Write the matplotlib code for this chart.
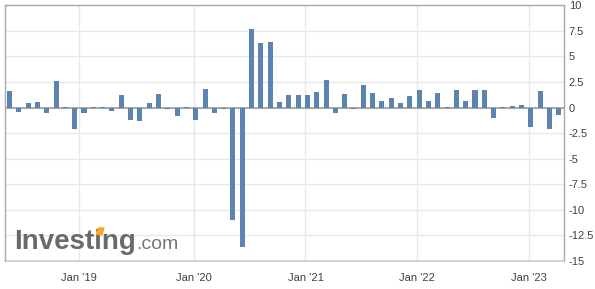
import matplotlib
matplotlib.use("Agg")
import matplotlib.pyplot as plt
from matplotlib.patches import Polygon
import numpy as np
import pandas as pd

plt.rcParams['font.family'] = ['Liberation Sans', 'DejaVu Sans']
plt.rcParams['axes.unicode_minus'] = False

# monthly values, May 2018 .. Apr 2023
months = [p.strftime("%b %y") for p in pd.period_range("2018-05", "2023-04", freq="M")]
values = [1.6, -0.4, 0.4, 0.5, -0.5, 2.6, 0.1, -2.1, -0.5, 0.05,
          0.05, -0.3, 1.2, -1.2, -1.3, 0.4, 1.3, -0.1, -0.8, 0.1,
          -1.2, 1.8, -0.5, -0.1, -11.0, -13.6, 7.7, 6.3, 6.4, 0.5,
          1.2, 1.2, 1.2, 1.5, 2.7, -0.5, 1.3, -0.1, 2.2, 1.4,
          0.6, 0.9, 0.4, 1.1, 1.7, 0.6, 1.4, 0.05, 1.7, 0.6,
          1.7, 1.7, -1.0, 0.1, 0.2, 0.3, -1.9, 1.6, -2.1, -0.7]

xtick_labels = ["Jan '19", "Jan '20", "Jan '21", "Jan '22", "Jan '23"]
xtick_pos = [7.47, 19.83, 31.79, 43.76, 55.76]
yticks = [10, 7.5, 5, 2.5, 0, -2.5, -5, -7.5, -10, -12.5, -15]

bar_color = "#5b84b1"
text_color = "#404040"

fig = plt.figure(figsize=(5.95, 2.89), dpi=100)
W, H = 595, 289
ax = fig.add_axes([4.5 / W, 1 - 261 / H, (564 - 4.5) / W, (261 - 5.3) / H])

x = np.arange(len(values))
ax.bar(x, values, width=0.54, color=bar_color, zorder=3)
ax.axhline(0, color="#9a9a9a", lw=1.2, zorder=2)

ax.set_xlim(-0.54, 59.56)
ax.set_ylim(-15, 10)

ax.set_yticks(yticks)
ax.set_yticklabels([f"{v:g}" for v in yticks])
ax.yaxis.tick_right()
ax.set_xticks(xtick_pos)
ax.set_xticklabels(xtick_labels)

ax.grid(True, color="#e8e8e8", lw=1, zorder=0)
ax.tick_params(axis="y", length=0, pad=3.5, labelsize=8, labelcolor=text_color)
ax.tick_params(axis="x", length=0, pad=8.5, labelsize=8, labelcolor=text_color)

for side in ["left", "top", "right"]:
    ax.spines[side].set_color("#a8a8a8")
    ax.spines[side].set_linewidth(1)
ax.spines["bottom"].set_color("#c4cad3")
ax.spines["bottom"].set_linewidth(1.2)

# watermark
fig.text(14.5 / W, 1 - 249 / H, "Investing", fontsize=20, fontweight="bold",
         color="#6a6a6a", va="baseline", ha="left")
fig.text(136 / W, 1 - 249 / H, ".com", fontsize=14, color="#777777",
         va="baseline", ha="left")
px = [(96.5 / W, 1 - 234.5 / H), (102 / W, 1 - 234.5 / H),
      (104 / W, 1 - 228 / H), (98.5 / W, 1 - 228 / H)]
fig.patches.append(Polygon(px, closed=True, transform=fig.transFigure,
                           color="#f5a623", zorder=5))

fig.savefig("out.png", dpi=100, facecolor="white")
